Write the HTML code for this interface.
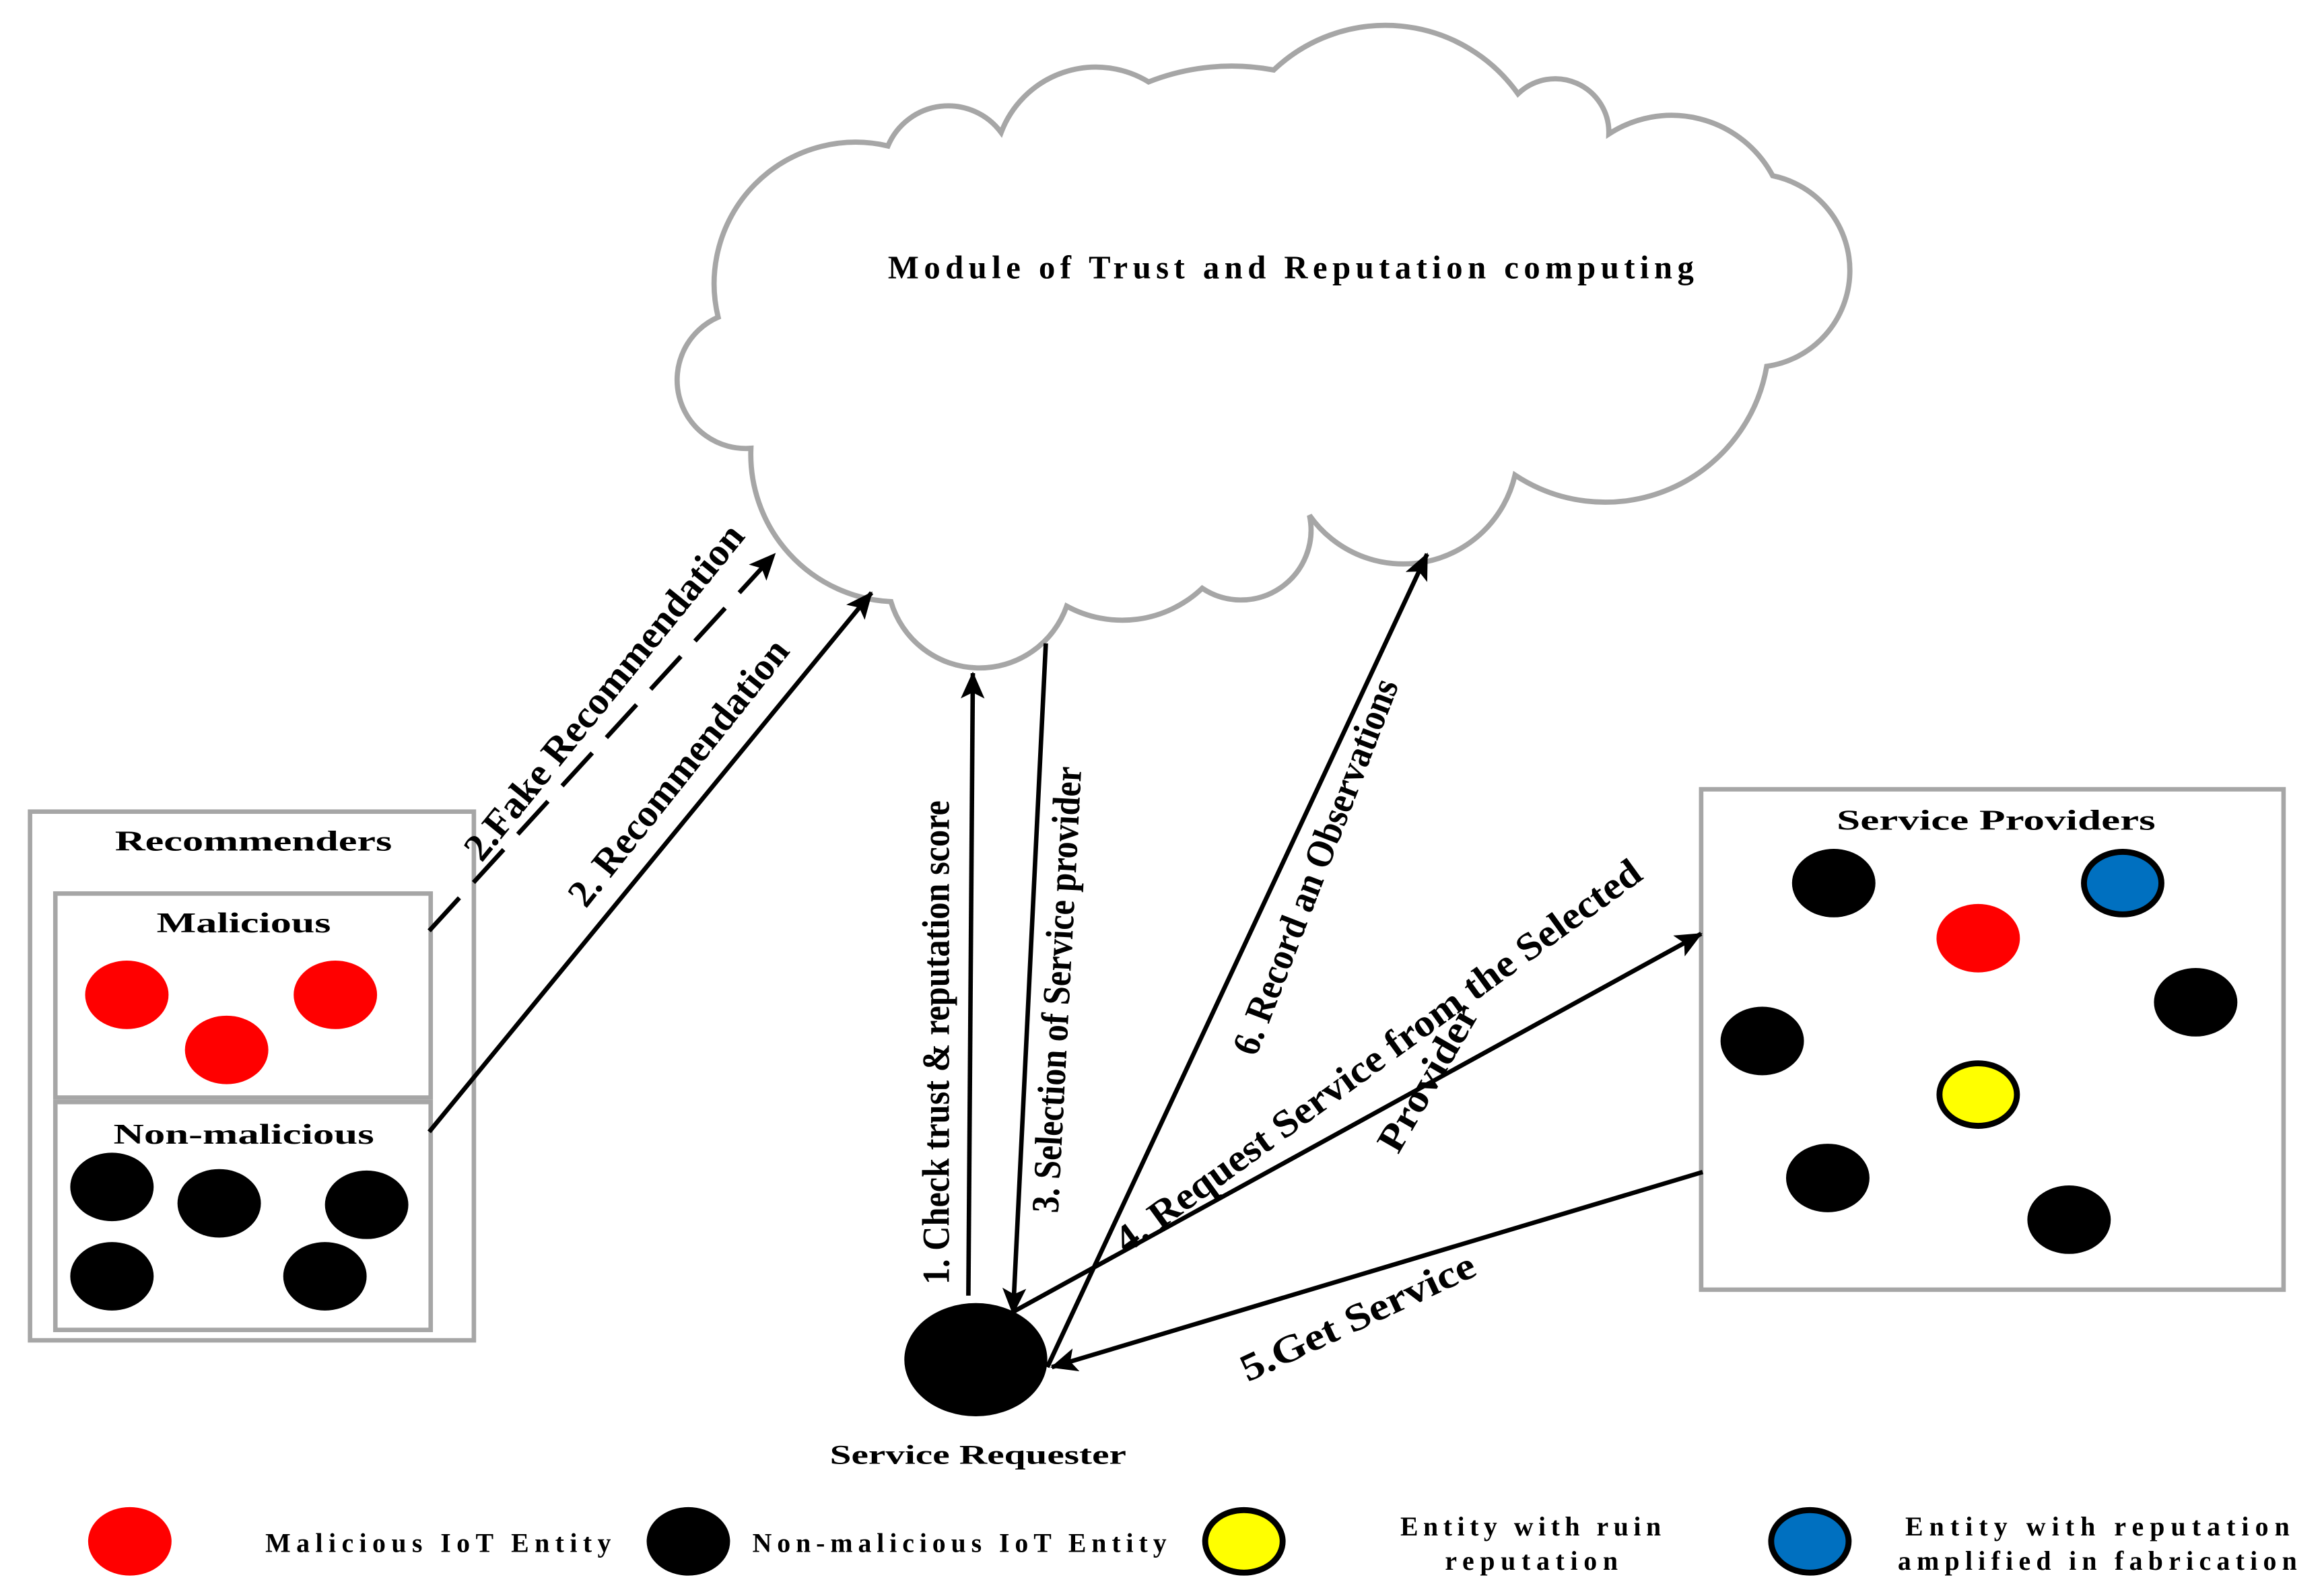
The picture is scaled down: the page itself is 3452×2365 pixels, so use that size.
<!DOCTYPE html>
<html><head><meta charset="utf-8"><style>
html,body{margin:0;padding:0;background:#fff;}
svg{display:block;}
text{font-family:"Liberation Serif",serif;font-weight:bold;fill:#000;}
</style></head><body>
<svg width="3452" height="2365" viewBox="0 0 1560 1069" xmlns="http://www.w3.org/2000/svg">
<defs>
<marker id="ah2" markerWidth="18" markerHeight="16" refX="17" refY="8" orient="auto" markerUnits="userSpaceOnUse" viewBox="0 0 18 16">
<path d="M0,0 L18,8 L0,16 L4,8 Z" fill="#000"/>
</marker>
</defs>
<rect width="1560" height="1069" fill="#fff"/>
<!-- cloud -->
<path d="M482,213 A95,95 0 0 1 596,98 A44,44 0 0 1 672,89 A68,68 0 0 1 771,55 A152,152 0 0 1 855,47 A109,109 0 0 1 1019,63 A36,36 0 0 1 1080,90 A77,77 0 0 1 1190,118 A65,65 0 0 1 1186,246 A110,110 0 0 1 1017,319 A77,77 0 0 1 879,346 A47,47 0 0 1 807,395 A78,78 0 0 1 716,407 A62,62 0 0 1 598,404 A99,99 0 0 1 504,301 A46,46 0 0 1 482,213 Z" fill="#fff" stroke="#a6a6a6" stroke-width="3.5"/>
<text x="596" y="187" font-size="22" textLength="541" lengthAdjust="spacing">Module of  Trust and Reputation computing</text>

<!-- Recommenders -->
<rect x="20" y="545" width="298" height="355" fill="none" stroke="#a6a6a6" stroke-width="3"/>
<text x="77" y="571" font-size="19" textLength="186" lengthAdjust="spacingAndGlyphs">Recommenders</text>
<rect x="37" y="600" width="252" height="137" fill="none" stroke="#a6a6a6" stroke-width="3"/>
<text x="105" y="626" font-size="19" textLength="117" lengthAdjust="spacingAndGlyphs">Malicious</text>
<rect x="37" y="740" width="252" height="153" fill="none" stroke="#a6a6a6" stroke-width="3"/>
<text x="76" y="768" font-size="19" textLength="175" lengthAdjust="spacingAndGlyphs">Non-malicious</text>
<g fill="#ff0000">
<ellipse cx="85" cy="668" rx="28" ry="23"/><ellipse cx="225" cy="668" rx="28" ry="23"/><ellipse cx="152" cy="705" rx="28" ry="23"/>
</g>
<g fill="#000">
<ellipse cx="75" cy="797" rx="28" ry="23"/><ellipse cx="147" cy="808" rx="28" ry="23"/><ellipse cx="246" cy="809" rx="28" ry="23"/><ellipse cx="75" cy="857" rx="28" ry="23"/><ellipse cx="218" cy="857" rx="28" ry="23"/>
</g>

<!-- Service Providers -->
<rect x="1142" y="530" width="391" height="336" fill="none" stroke="#a6a6a6" stroke-width="3"/>
<text x="1233" y="557" font-size="19" textLength="214" lengthAdjust="spacingAndGlyphs">Service Providers</text>
<g fill="#000">
<ellipse cx="1231" cy="593" rx="28" ry="23"/><ellipse cx="1474" cy="673" rx="28" ry="23"/><ellipse cx="1183" cy="699" rx="28" ry="23"/><ellipse cx="1227" cy="791" rx="28" ry="23"/><ellipse cx="1389" cy="819" rx="28" ry="23"/>
</g>
<ellipse cx="1328" cy="630" rx="28" ry="23" fill="#ff0000"/>
<ellipse cx="1425" cy="593" rx="26" ry="21" fill="#0070c0" stroke="#000" stroke-width="4"/>
<ellipse cx="1328" cy="735" rx="26" ry="21" fill="#ffff00" stroke="#000" stroke-width="4"/>

<!-- requester -->
<ellipse cx="655" cy="913" rx="48" ry="38" fill="#000"/>
<text x="557" y="983" font-size="18" textLength="199" lengthAdjust="spacingAndGlyphs">Service Requester</text>

<!-- arrows -->
<g stroke="#000" stroke-width="3" fill="none">
<line x1="288" y1="625" x2="520" y2="372" stroke-dasharray="30,14" marker-end="url(#ah2)"/>
<line x1="288" y1="760" x2="585" y2="398" marker-end="url(#ah2)"/>
<line x1="650" y1="870" x2="653" y2="452" marker-end="url(#ah2)"/>
<line x1="702" y1="432" x2="680" y2="882" marker-end="url(#ah2)"/>
<line x1="703" y1="918" x2="958" y2="372" marker-end="url(#ah2)"/>
<line x1="678" y1="882" x2="1142" y2="627" marker-end="url(#ah2)"/>
<line x1="1143" y1="787" x2="706" y2="918" marker-end="url(#ah2)"/>
</g>

<!-- rotated labels -->
<text font-size="26" transform="translate(412,470) rotate(-51)" text-anchor="middle" textLength="282" lengthAdjust="spacingAndGlyphs">2.Fake Recommendation</text>
<text font-size="26" transform="translate(462,524) rotate(-51.5)" text-anchor="middle" textLength="221" lengthAdjust="spacingAndGlyphs">2. Recommendation</text>
<text font-size="26" transform="translate(637,700) rotate(-90)" text-anchor="middle" textLength="325" lengthAdjust="spacingAndGlyphs">1. Check trust &amp; reputation score</text>
<text font-size="26" transform="translate(718,665) rotate(-87)" text-anchor="middle" textLength="300" lengthAdjust="spacingAndGlyphs">3. Selection of Service provider</text>
<text font-size="26" transform="translate(891,585) rotate(-69)" text-anchor="middle" textLength="268" lengthAdjust="spacingAndGlyphs">6. Record an Observations</text>
<text font-size="26" transform="translate(930,716) rotate(-36)" text-anchor="middle" textLength="430" lengthAdjust="spacingAndGlyphs">4. Request Service from the Selected</text>
<text font-size="26" transform="translate(966,728) rotate(-60)" text-anchor="middle" textLength="110" lengthAdjust="spacingAndGlyphs">Provider</text>
<text font-size="26" transform="translate(915,892) rotate(-25)" text-anchor="middle" textLength="171" lengthAdjust="spacingAndGlyphs">5.Get Service</text>

<!-- legend -->
<ellipse cx="87" cy="1035" rx="28" ry="23" fill="#ff0000"/>
<text x="178" y="1042" font-size="18" textLength="232" lengthAdjust="spacing">Malicious IoT  Entity</text>
<ellipse cx="462" cy="1035" rx="28" ry="23" fill="#000"/>
<text x="505" y="1042" font-size="18" textLength="278" lengthAdjust="spacing">Non-malicious IoT Entity</text>
<ellipse cx="835" cy="1035" rx="26" ry="21" fill="#ffff00" stroke="#000" stroke-width="4"/>
<text x="940" y="1031" font-size="18" textLength="175" lengthAdjust="spacing">Entity with ruin</text>
<text x="970" y="1054" font-size="18" textLength="116" lengthAdjust="spacing">reputation</text>
<ellipse cx="1215" cy="1035" rx="26" ry="21" fill="#0070c0" stroke="#000" stroke-width="4"/>
<text x="1279" y="1031" font-size="18" textLength="258" lengthAdjust="spacing">Entity with   reputation</text>
<text x="1274" y="1054" font-size="18" textLength="268" lengthAdjust="spacing">amplified  in fabrication</text>
</svg>
</body></html>
